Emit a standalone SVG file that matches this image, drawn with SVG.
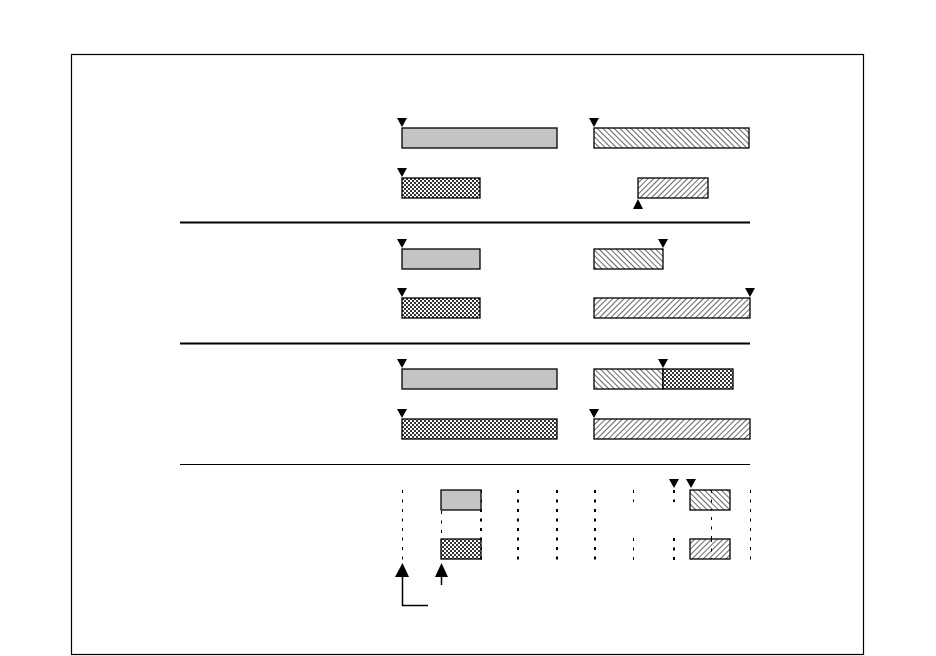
<svg xmlns="http://www.w3.org/2000/svg" width="936" height="656" viewBox="0 0 936 656">
<style>
.bar{stroke:#000;stroke-width:1.3}
.grey{fill:#c4c4c4}
.chk{fill:url(#checker)}
.bs{fill:url(#hatchB)}
.fs{fill:url(#hatchF)}
.sep{stroke:#000;stroke-width:2}
.tri{fill:#000}
.dot{stroke:#000;stroke-width:1;stroke-dasharray:3 6.5;fill:none}
.dotb{stroke:#000;stroke-width:2;stroke-dasharray:3 6.5;fill:none}
.ln{stroke:#000;stroke-width:1.5;fill:none}
</style>
<defs>
<pattern id="checker" width="4" height="4" patternUnits="userSpaceOnUse">
<rect width="4" height="4" fill="#fff"/>
<rect width="2" height="2" fill="#333"/>
<rect x="2" y="2" width="2" height="2" fill="#333"/>
</pattern>
<pattern id="hatchB" width="4" height="4" patternUnits="userSpaceOnUse" patternTransform="rotate(45)">
<rect width="4" height="4" fill="#fff"/>
<line x1="0" y1="0" x2="4" y2="0" stroke="#000" stroke-width="1.2"/>
</pattern>
<pattern id="hatchF" width="4" height="4" patternUnits="userSpaceOnUse" patternTransform="rotate(-45)">
<rect width="4" height="4" fill="#fff"/>
<line x1="0" y1="0" x2="4" y2="0" stroke="#000" stroke-width="1.2"/>
</pattern>
<path id="down" d="M-5,0 L5,0 L0,9 Z"/>
<path id="up" d="M-5,0 L5,0 L0,-10 Z"/>
</defs>
<rect x="0" y="0" width="936" height="656" fill="#fff"/>
<rect id="frame" x="71.5" y="54.5" width="792" height="600" fill="none" stroke="#000" stroke-width="1.2"/>

<g id="separators">
<line class="sep" x1="180" y1="222.5" x2="750" y2="222.5"/>
<line class="sep" x1="180" y1="343.5" x2="750" y2="343.5"/>
<line x1="180" y1="464.5" x2="750" y2="464.5" style="stroke:#000;stroke-width:1"/>
</g>

<g id="s1-left-top"><rect class="bar grey" x="402" y="128" width="155" height="20"/><use href="#down" x="402" y="118" class="tri"/></g>
<g id="s1-right-top"><rect class="bar bs" x="594" y="128" width="155" height="20"/><use href="#down" x="594" y="118" class="tri"/></g>
<g id="s1-left-bot"><rect class="bar chk" x="402" y="178" width="78" height="20"/><use href="#down" x="402" y="168" class="tri"/></g>
<g id="s1-right-bot"><rect class="bar fs" x="638" y="178" width="70" height="20"/><use href="#up" x="638" y="209" class="tri"/></g>

<g id="s2-left-top"><rect class="bar grey" x="402" y="249" width="78" height="20"/><use href="#down" x="402" y="239" class="tri"/></g>
<g id="s2-right-top"><rect class="bar bs" x="594" y="249" width="69" height="20"/><use href="#down" x="663" y="239" class="tri"/></g>
<g id="s2-left-bot"><rect class="bar chk" x="402" y="298" width="78" height="20"/><use href="#down" x="402" y="288" class="tri"/></g>
<g id="s2-right-bot"><rect class="bar fs" x="594" y="298" width="156" height="20"/><use href="#down" x="750" y="288" class="tri"/></g>

<g id="s3-left-top"><rect class="bar grey" x="402" y="369" width="155" height="20"/><use href="#down" x="402" y="359" class="tri"/></g>
<g id="s3-right-top"><rect class="bar bs" x="594" y="369" width="69" height="20"/><rect class="bar chk" x="663" y="369" width="70" height="20"/><use href="#down" x="663" y="359" class="tri"/></g>
<g id="s3-left-bot"><rect class="bar chk" x="402" y="419" width="155" height="20"/><use href="#down" x="402" y="409" class="tri"/></g>
<g id="s3-right-bot"><rect class="bar fs" x="594" y="419" width="156" height="20"/><use href="#down" x="594" y="409" class="tri"/></g>

<g id="grid">
<line class="dot" x1="402.5" y1="490" x2="402.5" y2="562"/>
<line class="dot" x1="441.5" y1="511" x2="441.5" y2="539"/>
<line class="dotb" x1="481" y1="490" x2="481" y2="560"/>
<line class="dotb" x1="518" y1="490" x2="518" y2="560"/>
<line class="dotb" x1="557" y1="490" x2="557" y2="560"/>
<line class="dotb" x1="595" y1="490" x2="595" y2="560"/>
<line class="dot" x1="633.5" y1="490" x2="633.5" y2="502"/>
<line class="dot" x1="633.5" y1="538" x2="633.5" y2="560"/>
<line class="dotb" x1="674" y1="490" x2="674" y2="502"/>
<line class="dotb" x1="674" y1="538" x2="674" y2="560"/>
<line class="dot" x1="711.5" y1="498" x2="711.5" y2="560"/>
<line class="dot" x1="750.5" y1="490" x2="750.5" y2="560"/>
</g>

<g id="s4-grey"><rect class="bar grey" x="441" y="490" width="40" height="20"/></g>
<g id="s4-checker"><rect class="bar chk" x="441" y="539" width="40" height="20"/></g>
<g id="s4-hatchB"><rect class="bar bs" x="690" y="490" width="40" height="20"/><line class="dot" x1="711.5" y1="490" x2="711.5" y2="510"/><use href="#down" x="674" y="479" class="tri"/><use href="#down" x="691" y="479" class="tri"/></g>
<g id="s4-hatchF"><rect class="bar fs" x="690" y="539" width="40" height="20"/><line class="dot" x1="711.5" y1="539" x2="711.5" y2="559"/></g>

<g id="connectors">
<path class="ln" d="M428,605.5 L402.5,605.5 L402.5,575"/>
<path class="tri" d="M395,577 L409,577 L402.5,563 Z"/>
<line class="ln" x1="441.5" y1="585" x2="441.5" y2="575"/>
<path class="tri" d="M435,577 L448,577 L441.5,563 Z"/>
</g>
</svg>
